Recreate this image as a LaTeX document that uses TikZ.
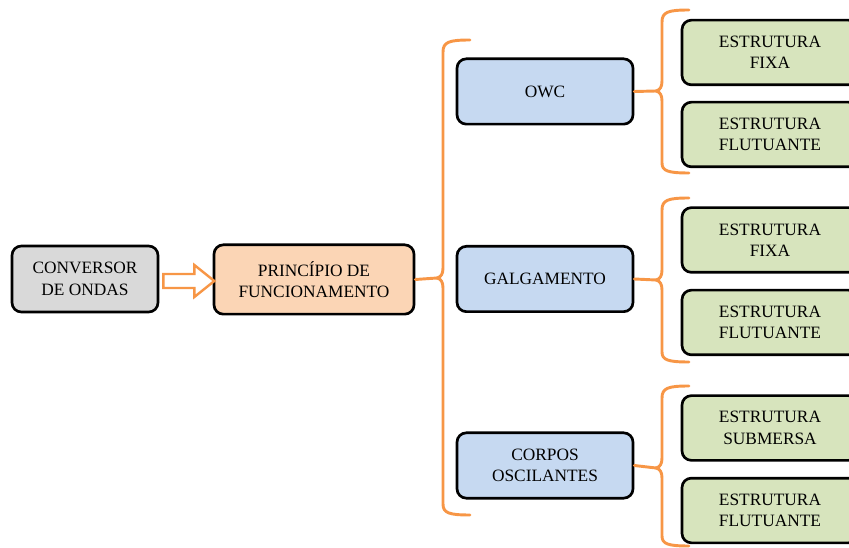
\documentclass[tikz,border=0pt]{standalone}
\usepackage{fontspec}
\setmainfont{Liberation Serif}
\usetikzlibrary{calc}
\definecolor{boxgray}{HTML}{D9D9D9}
\definecolor{boxpeach}{HTML}{FBD5B5}
\definecolor{boxblue}{HTML}{C6D9F1}
\definecolor{boxgreen}{HTML}{D7E4BD}
\definecolor{braceorange}{HTML}{F79646}
\begin{document}
\begin{tikzpicture}[x=0.75pt, y=-0.75pt,
	box/.style={draw, line width=2pt, rounded corners=7pt, align=center, inner sep=2pt, font=\fontsize{13}{16}\selectfont},
	convbox/.style={box, fill=boxgray, minimum width=109.5pt, minimum height=49.5pt},
	princbox/.style={box, fill=boxpeach, minimum width=150pt, minimum height=52pt},
	typebox/.style={box, fill=boxblue, minimum width=132pt, minimum height=49pt},
	structbox/.style={box, fill=boxgreen, minimum width=132pt, minimum height=48.5pt},
	brace/.style={draw=braceorange, line width=2.2pt, line cap=round, line join=round}]
	\useasboundingbox (0,0) rectangle (849,548);
				      \node (conv)[convbox] at (85,279) {CONVERSOR\\DE ONDAS};
				      \node (princ)[princbox] at (314,279.5) {PRINCÍPIO DE\\FUNCIONAMENTO};
				      \node (owc)[typebox] at (545,91.5) {OWC};
				      \node (galg)[typebox] at (545,279) {GALGAMENTO};
				      \node (corpos)[typebox] at (545,465.5) {CORPOS\\OSCILANTES};
				      \node (owcfixa)[structbox] at (770,52.5) {ESTRUTURA\\FIXA};
				      \node (owcflut)[structbox] at (770,134.5) {ESTRUTURA\\FLUTUANTE};
				      \node (galgfixa)[structbox] at (770,240) {ESTRUTURA\\FIXA};
				      \node (galgflut)[structbox] at (770,322.5) {ESTRUTURA\\FLUTUANTE};
				      \node (corpsub)[structbox] at (770,428) {ESTRUTURA\\SUBMERSA};
				      \node (corpflut)[structbox] at (770,510.5) {ESTRUTURA\\FLUTUANTE};
				      \coordinate (tipprinc) at (437,278);
				      \coordinate (tipowc) at (656,91);
				      \coordinate (tipgalg) at (656,280);
				      \coordinate (tipcorpos) at (656,468);
				      \draw[draw=braceorange, fill=white, line width=1.8pt, line join=miter]
				        ($(conv.east)+(4,-5)$) -- ++(31,0) -- ++(0,-9) -- ++(20,16) -- ++(-20,16) -- ++(0,-9) -- ++(-31,0) -- cycle;
				      \draw[brace] (470,40) .. controls (449,40) and (443,42) .. (443,52) -- (443,268) .. controls (443,274) and (441,277) .. (tipprinc) .. controls (441,279) and (443,282) .. (443,288) -- (443,504) .. controls (443,513) and (449,515) .. (470,515);
				      \draw[brace] (689,10) .. controls (668,10) and (662,12) .. (662,22) -- (662,81) .. controls (662,87) and (660,90) .. (tipowc) .. controls (660,92) and (662,95) .. (662,101) -- (662,163) .. controls (662,171) and (668,173) .. (689,173);
				      \draw[brace] (689,198) .. controls (668,198) and (662,200) .. (662,210) -- (662,270) .. controls (662,276) and (660,279) .. (tipgalg) .. controls (660,281) and (662,284) .. (662,290) -- (662,352) .. controls (662,360) and (668,362) .. (689,362);
				      \draw[brace] (689,386) .. controls (668,386) and (662,388) .. (662,398) -- (662,458) .. controls (662,464) and (660,467) .. (tipcorpos) .. controls (660,469) and (662,472) .. (662,478) -- (662,536) .. controls (662,544) and (668,546) .. (689,546);
				      \draw[brace] (princ.east) -- (tipprinc);
				      \draw[brace] (owc.east) -- (tipowc);
				      \draw[brace] (galg.east) -- (tipgalg);
				      \draw[brace] (corpos.east) -- (tipcorpos);
			      \end{tikzpicture}
\end{document}
